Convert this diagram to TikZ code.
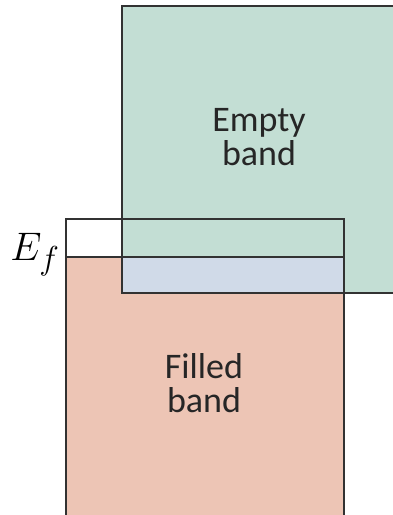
\documentclass[tikz,border=0pt]{standalone}
\usepackage{fontspec}
\setsansfont{Carlito}
\definecolor{emptyband}{RGB}{195,222,212}
\definecolor{filledband}{RGB}{237,197,181}
\definecolor{overlap}{RGB}{208,218,232}
\definecolor{edge}{RGB}{50,50,50}
\begin{document}
\begin{tikzpicture}[x=0.75pt,y=-0.75pt,
    bandlabel/.style={font=\sffamily\fontsize{27}{26}\selectfont,align=center,text=black!85},
    bandedge/.style={edge,line width=1.5pt}]
    \useasboundingbox (0,0) rectangle (393,515);
    \clip (0,0) rectangle (393,515);
    % Filled band
    \fill[filledband] (66,257) rectangle (344,520);
    % Empty band
    \fill[emptyband] (122,6) rectangle (394,293);
    % Overlap of the two bands
    \fill[overlap] (122,257) rectangle (344,293);
    % Outlines
    \draw[bandedge] (122,293) -- (122,6) -- (394,6) -- (394,293) -- cycle;
    \draw[bandedge] (66,520) -- (66,219) -- (344,219) -- (344,520);
    \draw[bandedge] (66,257) -- (344,257);
    % Labels
    \node[bandlabel] (empty) at (259,137) {Empty\\band};
    \node[bandlabel] (filled) at (204,383) {Filled\\band};
    \node[anchor=base east, font=\Huge, scale=1.2, inner sep=0pt] (fermi) at (60,260) {$E_f$};
\end{tikzpicture}
\end{document}
